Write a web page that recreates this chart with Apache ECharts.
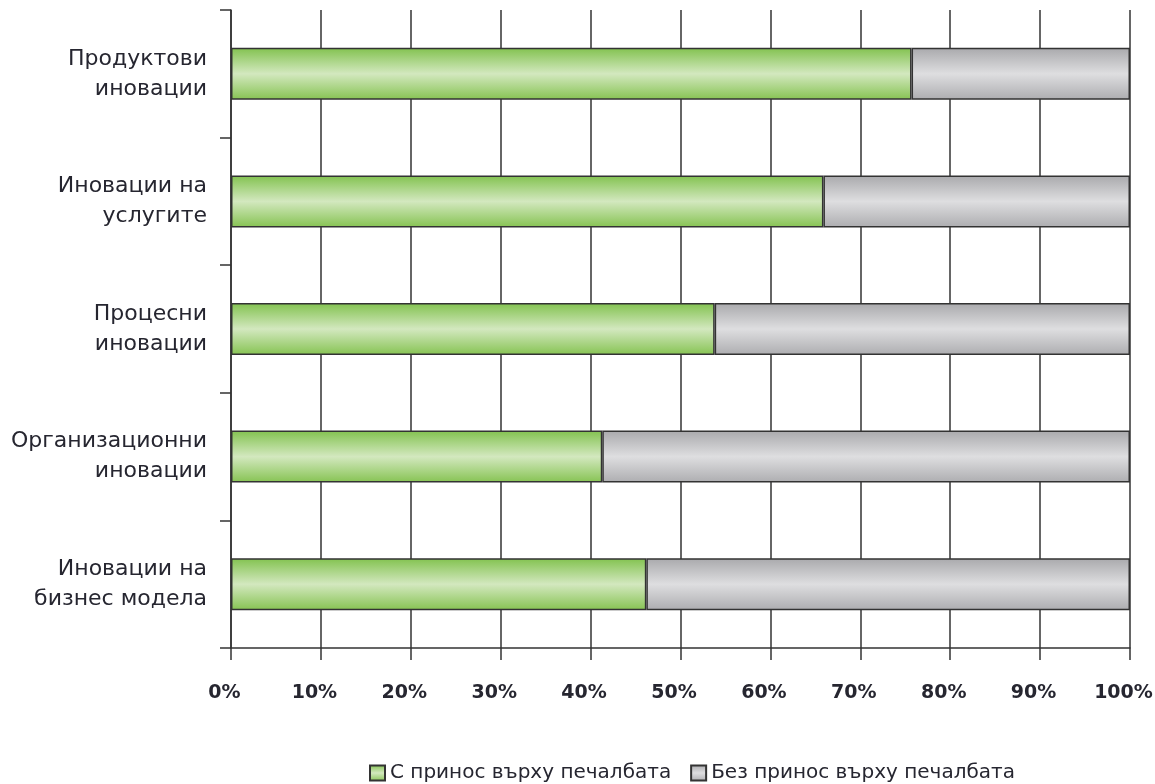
<!DOCTYPE html>
<html>
<head>
<meta charset="utf-8">
<script src="https://cdn.jsdelivr.net/npm/echarts@6/dist/echarts.min.js"></script>
<style>
  html, body { margin: 0; padding: 0; background: #fff; }
  #chart { width: 1155px; height: 784px; }
</style>
</head>
<body>
<div id="chart"></div>
<script>
const categories = [
  'Продуктови\nиновации',
  'Иновации на\nуслугите',
  'Процесни\nиновации',
  'Организационни\nиновации',
  'Иновации на\nбизнес модела'
]
const withProfit = [75.7, 65.9, 53.8, 41.3, 46.2]
const withoutProfit = withProfit.map(v => +(100 - v).toFixed(1))
const seriesNames = ['С принос върху печалбата', 'Без принос върху печалбата']

const font = '"DejaVu Sans", "Open Sans", sans-serif'
const ink = '#333'
const textInk = '#262630'

const vGrad = (edge, mid, edge2) => ({
  type: 'linear', x: 0, y: 0, x2: 0, y2: 1,
  colorStops: [
    { offset: 0, color: edge },
    { offset: 0.5, color: mid },
    { offset: 1, color: edge2 }
  ]
})

const chart = echarts.init(document.getElementById('chart'))

chart.setOption({
  backgroundColor: '#fff',
  animation: false,
  grid: { left: 231, right: 25, top: 10, bottom: 136, outerBoundsMode: 'none' },
  legend: {
    data: seriesNames,
    left: 364,
    top: 758,
    itemWidth: 15,
    itemHeight: 15,
    itemGap: 19,
    icon: 'rect',
    textStyle: { fontFamily: font, fontSize: 20, color: textInk }
  },
  xAxis: {
    type: 'value',
    min: 0,
    max: 100,
    interval: 10,
    axisLine: { show: true, lineStyle: { color: ink, width: 1.5 } },
    axisTick: { show: true, length: 12, lineStyle: { color: ink, width: 1.5 } },
    splitLine: { show: true, lineStyle: { color: ink, width: 1.5 } },
    axisLabel: {
      formatter: '{value}%',
      margin: 36,
      padding: [0, 13, 0, 0],
      fontFamily: font,
      fontSize: 19,
      fontWeight: 'bold',
      color: textInk
    }
  },
  yAxis: {
    type: 'category',
    data: categories,
    inverse: true,
    axisLine: { show: true, lineStyle: { color: ink, width: 1.5 } },
    axisTick: { show: true, length: 11, lineStyle: { color: ink, width: 1.5 } },
    splitLine: { show: false },
    axisLabel: {
      margin: 24,
      fontFamily: font,
      fontSize: 22,
      lineHeight: 30,
      color: textInk,
      align: 'right'
    }
  },
  series: [
    {
      name: seriesNames[0],
      type: 'bar',
      stack: 'total',
      barWidth: 52,
      data: withProfit,
      itemStyle: {
        color: vGrad('#82c24f', '#d3e8bf', '#86c352'),
        borderColor: ink,
        borderWidth: 1.5
      }
    },
    {
      name: seriesNames[1],
      type: 'bar',
      stack: 'total',
      barWidth: 52,
      data: withoutProfit,
      itemStyle: {
        color: vGrad('#a9a9ac', '#dedee0', '#adadb0'),
        borderColor: ink,
        borderWidth: 1.5
      }
    }
  ]
})
</script>
</body>
</html>
